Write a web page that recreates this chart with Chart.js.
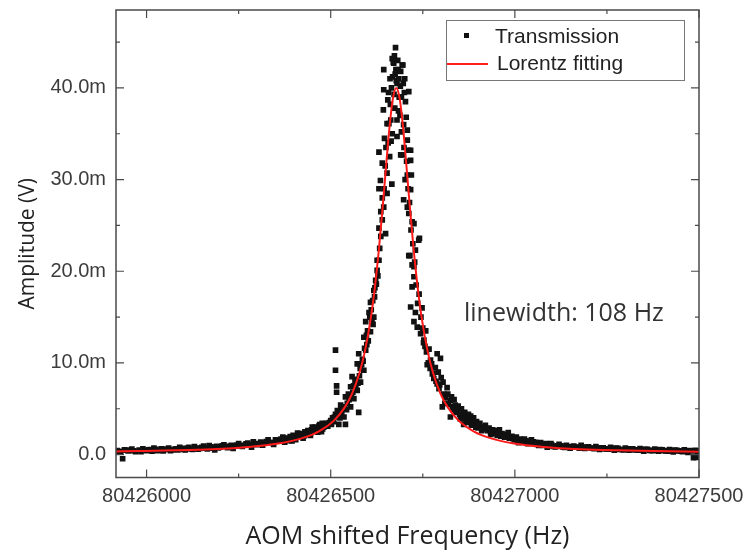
<!DOCTYPE html>
<html>
<head>
<meta charset="utf-8">
<script src="https://cdn.jsdelivr.net/npm/chart.js@4.4.1/dist/chart.umd.min.js"></script>
<style>
  html, body { margin: 0; padding: 0; background: #fff; }
  #chart { display: block; }
</style>
</head>
<body>
<canvas id="chart" width="748" height="552"></canvas>
<script>
// frequencies stored as offsets (Hz) from this base
const freqBase = 80426000;
const xMin = 80425917;
const xMax = 80427500;
const xTicks = [80426000, 80426500, 80427000, 80427500];
const xMinorTicks = [80426250, 80426750, 80427250];
const yTicks = [0, 10, 20, 30, 40];      // mV
const yMinorTicks = [5, 15, 25, 35, 45];

// measured transmission points (Hz offset, amplitude in mV)
const transOffsetHz = [
  -80, -70, -60, -50, -40, -30, -20, -10, 0, 10, 20, 30, 40, 50, 60, 70, 80, 90, 100, 110,
  120, 130, 140, 150, 160, 170, 180, 190, 200, 210, 220, 230, 240, 250, 260, 270, 280, 290, 300, 310,
  320, 330, 340, 350, 360, 370, 380, 390, 400, 410, 420, 430, 440, 450, 460, 470, 480,
  -65, 185, 235, 285, 315, 345, 375, 395, 405, 415, 425, 435, 445, 455, 465, 475,
  -75, -55, -35, -15, 5, 15, 25, 35, 45, 55, 65, 75, 85, 95, 105, 115, 125, 135, 145, 155,
  165, 175, 195, 205, 215, 225, 245, 255, 265, 275, 295, 305, 325, 335, 355, 365, 385,
  382, 388, 398, 402, 412, 418, 422, 428, 432, 438, 442, 448, 452, 458, 462, 468, 472, 477,
  427, 445, 463, 481, 500, 513, 522, 527, 536, 540, 554, 554, 558, 563, 572, 572, 576, 581, 590, 590,
  595, 595, 604, 608, 608, 617, 617, 622, 626, 631,
  513, 513, 516, 516, 576, 540,
  470, 475, 488, 492, 505, 508, 518, 530, 545, 548, 560, 566, 568, 578, 584, 586, 598, 600, 612, 614,
  620, 628, 633, 636,
  478, 484, 496, 502, 510, 520, 525, 532, 538, 543, 550, 556, 562, 570, 574, 580, 588, 592, 597, 602,
  606, 610, 615, 619, 624,
  631, 626, 635, 631, 631, 640, 643, 644, 644, 640, 649, 653, 653, 653, 655, 644, 658, 664, 671, 670,
  676, 680, 680, 680, 690, 694, 696, 694, 690, 703, 708, 708, 708, 712, 712, 717, 717, 717, 719, 712,
  726, 739, 741, 730, 715, 726, 708, 721, 665, 668, 672, 675, 678, 683, 686, 674, 662, 688, 698, 700,
  660, 666, 650, 702, 698, 646,
  657, 661, 667, 673, 677, 682, 685, 689, 692, 697, 701, 663, 667, 684, 692, 699, 705, 656, 648, 645,
  640, 636, 706, 710, 714, 718, 723, 728, 732, 736,
  712, 721, 726, 721, 717, 730, 726, 735, 744, 753, 789, 798, 771, 776, 789, 807, 825, 803, 844, 825,
  871, 861, 907, 934, 970, 1006, 1052, 1088,
  740, 745, 750, 756, 760, 765, 770, 780, 784, 794, 800, 812, 816, 820, 830, 835, 840, 850, 855, 866,
  876, 880, 890, 896, 900, 915, 920, 926, 940, 948, 955, 962, 978, 985, 992, 1000, 1015, 1022, 1030, 1040,
  1045, 1060, 1070, 1078, 1095, 1010, 1035, 1050, 1065, 1085, 860, 885, 905, 930, 945, 965,
  748, 752, 758, 762, 767, 774, 778, 786, 792, 796, 805, 810, 818, 828, 833, 838, 846, 852, 858, 864,
  870, 874, 882, 888, 894, 898, 910, 935, 952, 958, 972, 982, 996, 1004, 1018, 1026, 1038, 1048, 1056, 1074,
  1082, 1092, 1098,
  1100, 1110, 1120, 1130, 1140, 1150, 1160, 1170, 1180, 1190, 1200, 1210, 1220, 1230, 1240, 1250, 1260, 1270, 1280, 1290,
  1300, 1310, 1320, 1330, 1340, 1350, 1360, 1370, 1380, 1390, 1400, 1410, 1420, 1430, 1440, 1450, 1460, 1470, 1480, 1490,
  1495, 1500, 1485, 1493,
  1105, 1125, 1145, 1165, 1185, 1205, 1225, 1245, 1265, 1285, 1305, 1325, 1345, 1365, 1385, 1405, 1425, 1445, 1465,
  1115, 1135, 1155, 1175, 1195, 1215, 1235, 1255, 1275, 1295, 1315, 1335, 1355, 1375, 1395, 1415, 1435, 1455, 1475
];
const transAmpMV = [
  0.44, 0.35, 0.53, 0.41, 0.59, 0.32, 0.50, 0.64, 0.44, 0.55, 0.71, 0.43, 0.62, 0.53, 0.72, 0.50, 0.64, 0.80, 0.56, 0.71,
  0.63, 0.87, 0.58, 0.80, 0.71, 0.98, 0.70, 0.89, 0.81, 1.07, 0.76, 1.00, 0.93, 1.20, 0.90, 1.16, 1.06, 1.38, 1.07, 1.36,
  1.25, 1.60, 1.29, 1.61, 1.53, 1.92, 1.57, 1.96, 1.90, 2.35, 2.01, 2.49, 2.43, 2.99, 2.67, 3.28, 3.26,
  -0.45, 0.52, 0.68, 0.82, 1.02, 1.10, 1.35, 1.48, 1.62, 2.00, 1.80, 2.20, 2.10, 2.60, 2.45, 3.00,
  0.30, 0.48, 0.42, 0.33, 0.52, 0.38, 0.58, 0.47, 0.40, 0.61, 0.44, 0.58, 0.52, 0.68, 0.50, 0.78, 0.55, 0.70, 0.66, 0.92,
  0.62, 0.85, 0.74, 0.95, 0.88, 0.90, 1.05, 0.98, 1.02, 1.25, 1.18, 1.20, 1.42, 1.35, 1.45, 1.70, 1.75,
  1.80, 1.52, 2.10, 1.75, 2.12, 2.30, 2.25, 2.05, 2.35, 2.62, 2.30, 2.70, 2.55, 3.00, 2.80, 3.10, 2.75, 3.40,
  2.1, 2.3, 2.6, 3.0, 3.7, 4.4, 3.3, 5.4, 4.1, 6.3, 5.2, 7.4, 8.5, 6.1, 7.0, 9.9, 11.0, 7.9, 9.2, 12.8,
  11.4, 14.5, 15.5, 13.4, 16.6, 15.0, 17.9, 19.0, 20.1, 21.2,
  11.4, 9.2, 7.5, 6.8, 4.6, 3.3,
  2.9, 2.5, 3.4, 3.1, 4.0, 3.6, 4.8, 4.6, 5.6, 6.6, 6.8, 8.0, 7.4, 8.6, 9.8, 10.4, 12.0, 13.5, 14.4, 16.8,
  18.2, 19.5, 22.5, 23.8,
  2.8, 3.2, 3.5, 3.3, 4.1, 4.3, 4.0, 5.0, 5.2, 4.9, 6.0, 6.4, 7.5, 8.2, 7.8, 9.4, 10.2, 11.6, 13.0, 12.4,
  15.0, 15.8, 14.2, 17.2, 18.6,
  24.7, 21.2, 29.9, 29.0, 33.0, 31.8, 37.6, 42.0, 27.0, 25.6, 24.1, 30.7, 28.5, 36.1, 38.7, 39.8, 36.1, 34.2, 42.7, 42.8,
  44.4, 40.5, 34.7, 36.5, 41.8, 42.5, 42.5, 32.7, 32.7, 38.5, 35.4, 34.3, 30.5, 39.6, 33.2, 33.2, 32.1, 28.9, 30.5, 26.3,
  25.2, 23.4, 23.6, 22.3, 21.7, 20.5, 27.0, 25.4, 40.0, 41.2, 39.3, 41.5, 40.8, 42.0, 39.0, 37.8, 38.2, 37.0, 36.0, 39.5,
  32.5, 29.5, 33.5, 30.0, 27.8, 34.5,
  39.5, 41.0, 43.2, 43.5, 42.0, 43.0, 41.0, 40.2, 39.0, 40.5, 41.0, 36.5, 35.0, 37.5, 35.2, 33.5, 36.8, 34.0, 31.5, 29.0,
  28.0, 26.5, 32.0, 29.0, 27.5, 24.5, 23.0, 21.0, 18.5, 16.5,
  21.7, 20.7, 19.4, 18.3, 16.1, 15.5, 14.5, 13.9, 13.2, 12.5, 11.0, 10.5, 10.3, 8.8, 7.7, 6.6, 5.9, 5.2, 4.8, 4.1,
  4.1, 3.3, 3.0, 2.4, 2.1, 1.5, 1.2, 0.8,
  17.5, 15.0, 13.8, 11.8, 11.2, 10.0, 9.4, 8.3, 9.5, 7.2, 8.4, 6.2, 7.3, 5.5, 5.2, 6.0, 4.6, 4.4, 5.0, 3.9,
  3.6, 4.2, 3.3, 3.6, 2.9, 2.8, 3.2, 2.6, 2.7, 2.3, 2.5, 2.0, 2.2, 1.8, 2.0, 1.6, 1.7, 1.4, 1.5, 1.3,
  1.6, 1.1, 1.3, 1.0, 1.1, 1.3, 1.2, 1.4, 1.0, 1.2, 4.5, 3.8, 3.4, 2.9, 2.6, 2.3,
  16.0, 12.2, 13.5, 9.8, 11.5, 9.9, 8.9, 8.0, 9.0, 7.6, 7.9, 5.6, 6.6, 6.3, 4.9, 5.4, 5.3, 3.9, 4.3, 4.6,
  3.5, 4.4, 3.2, 4.0, 3.0, 3.3, 2.6, 2.2, 2.1, 2.7, 1.9, 2.4, 1.7, 1.9, 1.5, 1.7, 1.45, 1.25, 1.35, 1.15,
  1.05, 0.95, 1.2,
  1.07, 0.84, 1.11, 0.84, 1.02, 0.70, 0.93, 0.81, 1.01, 0.67, 0.84, 0.69, 0.88, 0.56, 0.75, 0.61, 0.80, 0.49, 0.68, 0.55,
  0.72, 0.48, 0.62, 0.53, 0.65, 0.38, 0.57, 0.46, 0.60, 0.37, 0.51, 0.41, 0.55, 0.30, 0.46, 0.36, 0.51, 0.23, 0.40, 0.47,
  0.29, 0.41, -0.35, -0.30,
  0.90, 0.95, 0.85, 0.80, 0.78, 0.72, 0.70, 0.62, 0.66, 0.55, 0.60, 0.50, 0.55, 0.45, 0.50, 0.44, 0.45, 0.40, 0.42,
  0.95, 0.78, 0.88, 0.70, 0.82, 0.64, 0.74, 0.58, 0.71, 0.52, 0.64, 0.47, 0.58, 0.42, 0.55, 0.38, 0.50, 0.33, 0.45
];

// Lorentz fit curve (Hz offset, mV)
const fitOffsetHz = [
  -84, -22, 78, 178, 278, 358, 418, 468, 508, 538, 558, 578, 593, 608, 620, 631, 641, 651, 660, 669,
  678, 687, 696, 705, 715, 725, 736, 748, 763, 778, 798, 818, 848, 888, 938, 998, 1078, 1178, 1278, 1378, 1500
];
const fitAmpMV = [
  0.34, 0.38, 0.46, 0.59, 0.84, 1.21, 1.74, 2.54, 3.68, 5.15, 6.65, 8.89, 11.31, 14.67, 18.28, 22.46, 26.94, 31.79, 35.88, 38.88,
  40.00, 38.88, 35.88, 31.79, 26.94, 22.46, 18.28, 14.67, 11.31, 8.89, 6.65, 5.15, 3.68, 2.54, 1.74, 1.21, 0.84, 0.59, 0.46, 0.38, 0.31
];

const legendLabels = ['Transmission', 'Lorentz fitting'];
const noteText = 'linewidth: 108 Hz';

const transPoints = transOffsetHz.map((d, i) => ({ x: freqBase + d, y: transAmpMV[i] }));
const fitPoints = fitOffsetHz.map((d, i) => ({ x: freqBase + d, y: fitAmpMV[i] }));

const tickFont = { family: 'Liberation Sans', size: 20 };

// box with inward ticks on all four sides, legend box and note
const framePlugin = {
  id: 'frame',
  afterDatasetsDraw(chart) {
    const ctx = chart.ctx;
    const a = chart.chartArea;
    const xs = chart.scales.x, ys = chart.scales.y;
    ctx.save();
    ctx.strokeStyle = '#4a4a4a';
    ctx.lineWidth = 1.5;
    ctx.strokeRect(a.left, a.top, a.right - a.left, a.bottom - a.top);
    ctx.lineWidth = 1.2;
    ctx.beginPath();
    xTicks.forEach(v => {
      const px = xs.getPixelForValue(v);
      ctx.moveTo(px, a.bottom); ctx.lineTo(px, a.bottom - 8);
      ctx.moveTo(px, a.top); ctx.lineTo(px, a.top + 8);
    });
    xMinorTicks.forEach(v => {
      const px = xs.getPixelForValue(v);
      ctx.moveTo(px, a.bottom); ctx.lineTo(px, a.bottom - 4);
      ctx.moveTo(px, a.top); ctx.lineTo(px, a.top + 4);
    });
    yTicks.forEach(v => {
      const py = ys.getPixelForValue(v);
      ctx.moveTo(a.left, py); ctx.lineTo(a.left + 8, py);
      ctx.moveTo(a.right, py); ctx.lineTo(a.right - 8, py);
    });
    yMinorTicks.forEach(v => {
      const py = ys.getPixelForValue(v);
      ctx.moveTo(a.left, py); ctx.lineTo(a.left + 4, py);
      ctx.moveTo(a.right, py); ctx.lineTo(a.right - 4, py);
    });
    ctx.stroke();

    // legend
    ctx.fillStyle = '#fff';
    ctx.fillRect(446, 20, 238, 60);
    ctx.strokeStyle = '#777';
    ctx.lineWidth = 1;
    ctx.strokeRect(446.5, 20.5, 238, 60);
    ctx.fillStyle = '#111';
    ctx.fillRect(464, 33, 5, 5);
    ctx.strokeStyle = '#ff2020';
    ctx.lineWidth = 2;
    ctx.beginPath();
    ctx.moveTo(447, 64); ctx.lineTo(488, 64);
    ctx.stroke();
    ctx.fillStyle = '#222';
    ctx.font = '21px "Liberation Sans"';
    ctx.textBaseline = 'middle';
    ctx.textAlign = 'left';
    ctx.fillText(legendLabels[0], 495, 37);
    ctx.fillText(legendLabels[1], 497, 64);

    // note
    ctx.fillStyle = '#333';
    ctx.font = '25px "Open Sans"';
    ctx.fillText(noteText, 464, 314);
    ctx.restore();
  }
};

new Chart(document.getElementById('chart'), {
  type: 'scatter',
  data: {
    datasets: [
      {
        label: legendLabels[1],
        data: fitPoints,
        showLine: true,
        borderColor: '#ff1a1a',
        borderWidth: 2,
        pointRadius: 0,
        cubicInterpolationMode: 'monotone',
        order: 0
      },
      {
        label: legendLabels[0],
        data: transPoints,
        pointStyle: 'rect',
        pointRadius: 4,
        backgroundColor: '#111',
        borderColor: '#111',
        borderWidth: 0,
        order: 1
      }
    ]
  },
  options: {
    responsive: false,
    animation: false,
    devicePixelRatio: 1,
    layout: { padding: { top: 10, right: 49, left: 0, bottom: 0 } },
    plugins: { legend: { display: false }, tooltip: { enabled: false } },
    scales: {
      x: {
        type: 'linear',
        min: xMin,
        max: xMax,
        afterBuildTicks: s => { s.ticks = xTicks.map(v => ({ value: v })); },
        afterFit: s => { s.height = 74.5; s.paddingLeft = 0; s.paddingRight = 0; },
        grid: { display: false, drawTicks: false },
        border: { display: false },
        ticks: {
          padding: 7,
          maxRotation: 0,
          color: '#3c3c3c',
          font: tickFont,
          callback: v => String(v)
        },
        title: {
          display: true,
          text: 'AOM shifted Frequency (Hz)',
          color: '#222',
          font: { family: 'Open Sans', size: 25 },
          padding: { top: 0, bottom: 0 }
        }
      },
      y: {
        min: -2.5,
        max: 48.5,
        afterBuildTicks: s => { s.ticks = yTicks.map(v => ({ value: v })); },
        afterFit: s => { s.width = 116; s.paddingTop = 0; s.paddingBottom = 0; },
        grid: { display: false, drawTicks: false },
        border: { display: false },
        ticks: {
          padding: 10,
          color: '#3c3c3c',
          font: tickFont,
          callback: v => (v === 0 ? '0.0' : v.toFixed(1) + 'm')
        },
        title: {
          display: true,
          text: 'Amplitude (V)',
          color: '#222',
          font: { family: 'Open Sans', size: 21 },
          padding: { top: 15, bottom: 0 }
        }
      }
    }
  },
  plugins: [framePlugin]
});
</script>
</body>
</html>
